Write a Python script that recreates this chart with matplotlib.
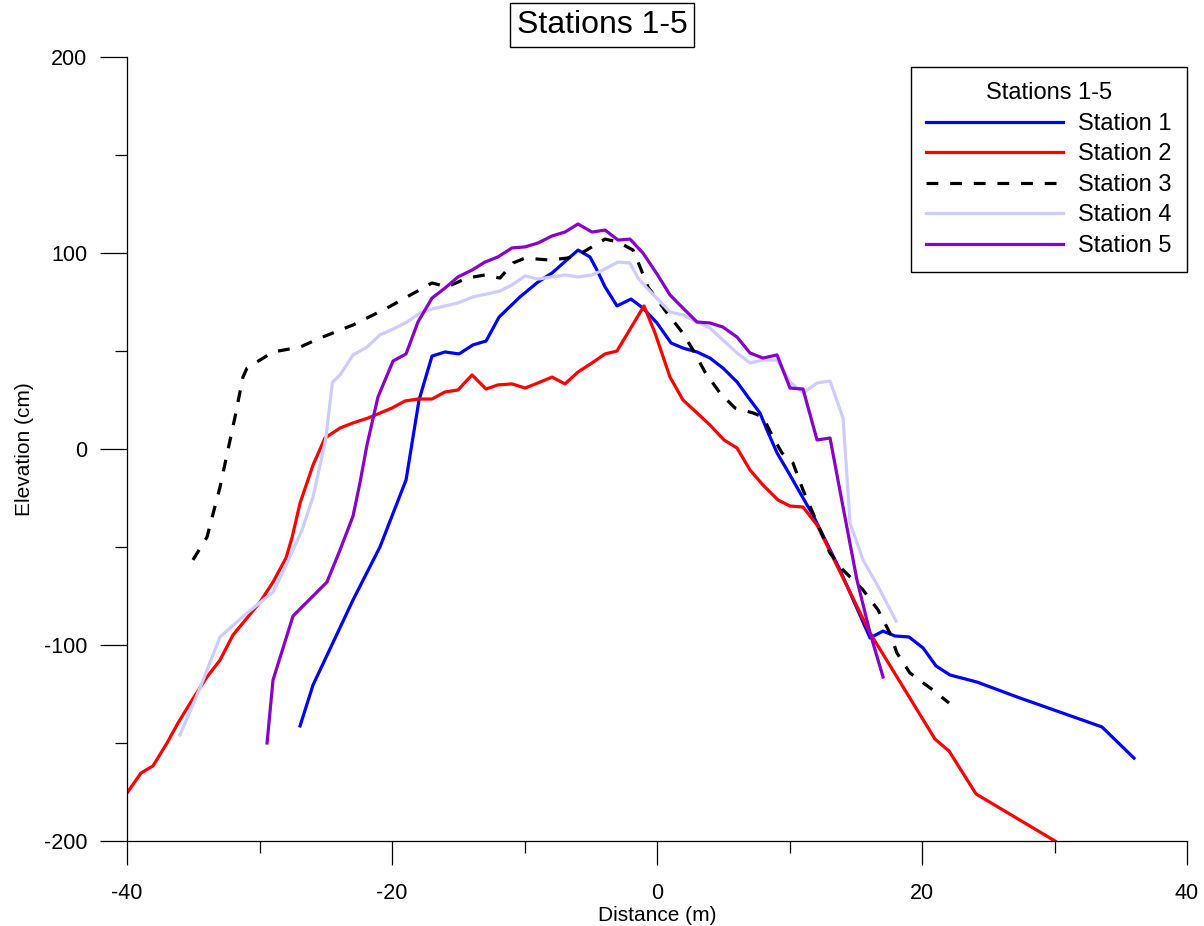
import matplotlib
matplotlib.use("Agg")
import matplotlib.pyplot as plt
from matplotlib.ticker import MultipleLocator

plt.rcParams['font.family'] = ['Liberation Sans', 'DejaVu Sans']
plt.rcParams['axes.unicode_minus'] = False

# ---- data ----
s1_x = [-26.94, -25.96, -24.08, -22.94, -20.91, -18.94, -17.96, -16.98, -16.0, -14.94, -13.89, -12.9,
        -11.92, -10.34, -8.98, -7.92, -5.96, -5.06, -4.53, -3.92, -3.02, -1.96, -1.06, 0.0, 1.06, 1.96,
        3.02, 4.0, 4.98, 6.04, 6.87, 7.77, 8.3, 9.06, 10.04, 11.02, 11.77, 13.81, 16.08, 17.06, 17.96,
        19.02, 20.08, 21.06, 22.11, 24.15, 27.17, 33.58, 36.0]
s1_y = [-141.3, -120.4, -93.4, -77.0, -50.0, -15.8, 25.0, 47.4, 49.5, 48.5, 53.1, 55.1,
        67.3, 77.6, 85.2, 89.8, 101.5, 98.0, 91.3, 82.7, 73.0, 76.5, 71.9, 64.3, 54.1, 51.5,
        49.5, 46.4, 41.3, 34.2, 26.5, 18.4, 9.7, -2.0, -13.3, -25.0, -33.7, -61.7, -96.4, -92.9, -95.4,
        -95.9, -101.5, -110.7, -115.3, -118.9, -126.5, -141.8, -157.7]

s2_x = [-40.0, -38.94, -38.04, -36.98, -36.15, -35.09, -33.96, -32.98, -32.0, -30.94, -29.96, -28.98,
        -28.0, -27.55, -26.94, -25.96, -25.06, -23.92, -22.94, -21.81, -21.06, -20.0, -19.02, -18.04,
        -16.98, -16.0, -15.02, -13.96, -12.9, -12.0, -10.94, -9.96, -8.98, -7.92, -6.94, -5.96, -4.91,
        -3.92, -3.02, -0.98, -0.15, 0.98, 1.96, 3.02, 4.0, 5.06, 6.04, 7.02, 8.0, 9.13, 10.04, 11.02,
        12.08, 16.08, 20.98, 22.04, 24.08, 30.04]
s2_y = [-175.5, -165.3, -161.7, -150.0, -139.8, -128.1, -116.3, -107.7, -94.9, -86.2, -78.1, -67.9,
        -55.6, -45.4, -27.6, -8.2, 5.6, 10.7, 13.3, 15.8, 17.9, 20.9, 24.5, 25.5,
        25.5, 29.1, 30.1, 37.8, 30.6, 32.7, 33.2, 31.1, 33.7, 36.7, 33.2, 39.3, 43.9,
        48.5, 50.0, 73.0, 59.2, 36.7, 25.0, 18.4, 12.2, 4.6, 0.5, -10.7, -18.4, -26.0, -29.1, -29.6,
        -38.8, -93.9, -148.0, -154.1, -176.0, -200.0]

s3_x = [-35.02, -33.96, -32.98, -31.85, -31.25, -30.94, -28.98, -26.94, -25.43, -22.94, -20.38, -18.87,
        -16.98, -15.85, -14.34, -12.98, -11.85, -10.87, -9.96, -8.08, -6.79, -5.81, -4.91, -3.92, -2.94,
        -1.81, -1.28, -0.68, 0.75, 1.89, 2.72, 3.62, 4.75, 5.89, 7.25, 8.0, 8.75, 9.43, 10.26, 11.02,
        11.77, 13.06, 14.04, 15.55, 16.68, 17.58, 18.11, 19.09, 20.83, 22.04]
s3_y = [-56.6, -44.9, -19.4, 16.3, 36.7, 41.3, 49.5, 52.0, 56.6, 63.3, 71.9, 77.6,
        84.7, 82.7, 87.2, 88.8, 87.2, 94.9, 97.4, 96.4, 97.4, 99.5, 103.1, 107.1, 105.6,
        101.5, 92.9, 82.7, 69.4, 59.7, 50.5, 39.3, 28.6, 20.9, 18.4, 16.3, 6.1, -2.0, -7.1, -20.9,
        -32.7, -53.1, -61.7, -71.9, -82.1, -93.9, -104.1, -114.3, -123.0, -129.6]

s4_x = [-36.0, -34.49, -32.98, -30.94, -28.98, -27.92, -26.79, -25.96, -25.0, -24.5, -23.92, -22.94,
        -21.89, -20.91, -19.92, -18.87, -17.89, -16.98, -16.0, -15.02, -13.89, -12.83, -11.85, -10.94,
        -9.96, -8.98, -7.92, -6.94, -5.96, -4.91, -4.08, -2.94, -2.04, -1.43, -0.75, 0.98, 1.96, 3.02,
        4.0, 4.98, 6.04, 7.02, 8.0, 9.06, 10.04, 11.02, 12.08, 13.06, 14.04, 14.57, 15.55, 16.83, 18.04]
s4_y = [-145.9, -121.9, -95.9, -83.7, -73.0, -58.2, -41.3, -24.5, 5.0, 34.0, 37.8, 48.0,
        52.0, 58.2, 61.2, 64.8, 69.4, 71.4, 73.0, 74.5, 77.6, 79.1, 80.6, 83.7,
        88.3, 86.7, 87.8, 88.8, 87.8, 88.8, 91.3, 95.4, 94.9, 87.2, 82.1, 69.9, 68.4, 64.8,
        61.7, 55.6, 49.0, 43.9, 45.4, 45.4, 34.2, 28.6, 33.7, 34.7, 15.8, -37.8, -56.6, -71.9, -87.8]

s5_x = [-29.43, -28.98, -27.47, -24.91, -23.92, -22.94, -22.42, -21.89, -21.06, -19.92, -18.94, -18.04,
        -16.98, -16.0, -15.02, -13.96, -12.98, -12.0, -10.94, -9.96, -8.98, -7.92, -6.94, -5.96, -4.91,
        -3.92, -2.94, -2.04, -1.06, 0.0, 0.98, 1.96, 3.02, 4.0, 4.98, 6.04, 7.02, 8.0, 9.06, 10.04,
        11.02, 12.08, 13.06, 14.04, 15.09, 16.08, 17.06]
s5_y = [-150.0, -117.9, -85.2, -67.9, -51.5, -34.2, -17.3, 2.0, 26.5, 44.9, 48.5, 64.8,
        77.0, 82.1, 87.8, 91.3, 95.4, 98.0, 102.6, 103.1, 105.1, 108.7, 110.7, 114.8, 110.7,
        111.7, 106.6, 107.1, 100.0, 89.3, 78.6, 71.9, 64.8, 64.3, 62.2, 57.1, 49.0, 46.4, 48.0, 31.1,
        30.6, 4.6, 5.6, -29.6, -66.8, -93.9, -116.3]

labels = ['Station 1', 'Station 2', 'Station 3', 'Station 4', 'Station 5']
colors = ['#0000FF', '#FF0000', '#000000', '#CCCCFF', '#8800CC']

# ---- figure ----
W, H = 1204, 926
fig = plt.figure(figsize=(W / 100, H / 100), dpi=100)
ax = fig.add_axes([127 / W, 1 - 841 / H, (1187 - 127) / W, (841 - 57) / H])

lw = 2.3
series = [(s1_x, s1_y), (s2_x, s2_y), (s3_x, s3_y), (s4_x, s4_y), (s5_x, s5_y)]
for i, ((xs, ys), lab, c) in enumerate(zip(series, labels, colors)):
    if i == 2:
        ax.plot(xs, ys, color=c, lw=lw, ls=(0, (3.7, 3.7)), label=lab)
    else:
        ax.plot(xs, ys, color=c, lw=lw, label=lab)

ax.set_xlim(-40, 40)
ax.set_ylim(-200, 200)
ax.xaxis.set_major_locator(MultipleLocator(20))
ax.xaxis.set_minor_locator(MultipleLocator(10))
ax.yaxis.set_major_locator(MultipleLocator(100))
ax.yaxis.set_minor_locator(MultipleLocator(50))

for s in ['top', 'right']:
    ax.spines[s].set_visible(False)
for s in ['left', 'bottom']:
    ax.spines[s].set_linewidth(0.9)
    ax.spines[s].set_color('black')

ax.tick_params(axis='x', which='major', direction='out', length=17.5, width=0.9, labelsize=15.5, pad=13)
ax.tick_params(axis='x', which='minor', direction='out', length=8.6, width=0.9)
ax.tick_params(axis='y', which='major', direction='out', length=19.5, width=0.9, labelsize=15.5, pad=9)
ax.tick_params(axis='y', which='minor', direction='out', length=8.6, width=0.9)

ax.set_xlabel('Distance (m)', fontsize=15, labelpad=1)
ax.set_ylabel('Elevation (cm)', fontsize=15, labelpad=7)

leg = ax.legend(loc='upper right', bbox_to_anchor=(1187 / W, 1 - 67 / H),
                bbox_transform=fig.transFigure, borderaxespad=0,
                title='Stations 1-5', title_fontsize=17, fontsize=17,
                handlelength=5.8, handletextpad=0.65, borderpad=0.65, labelspacing=0.36,
                fancybox=False, shadow=False, framealpha=1, edgecolor='black')
leg.get_frame().set_linewidth(1.0)

fig.text(0.5, 1 - 25 / H, 'Stations 1-5', fontsize=23, ha='center', va='center',
         bbox=dict(boxstyle='square,pad=0.22', fc='white', ec='black', lw=1.0))

fig.savefig('out.png', dpi=100)
